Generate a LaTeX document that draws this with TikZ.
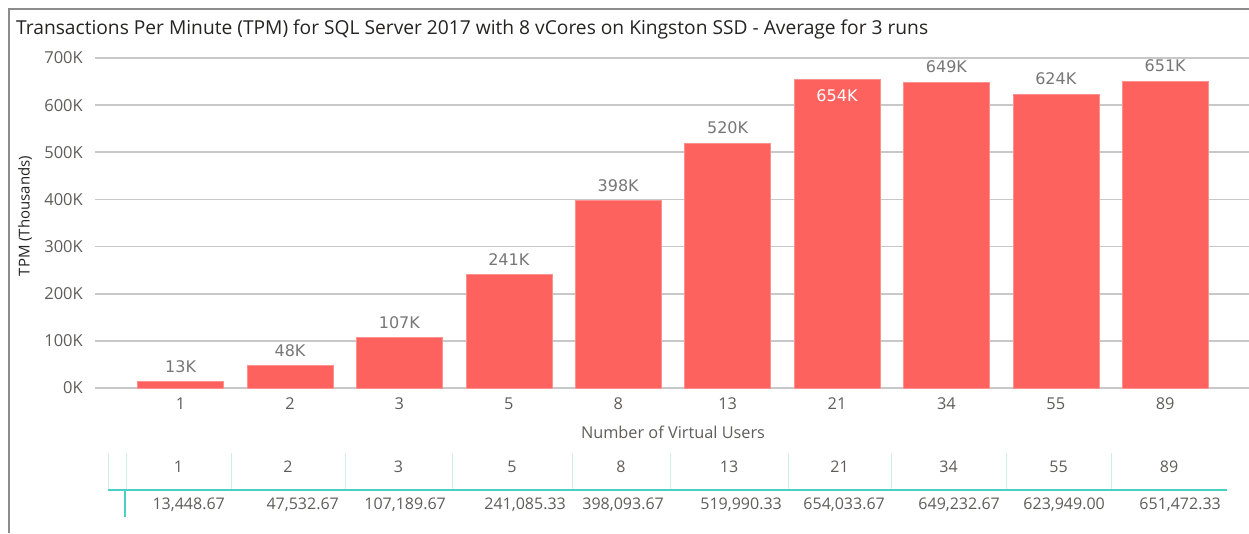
\documentclass[tikz,border=0pt]{standalone}
\usepackage{fontspec}
\setmainfont{Open Sans}
\newfontfamily\labelfont{DejaVu Sans}
\definecolor{barred}{HTML}{FD625E}
\definecolor{gridgrey}{HTML}{C8C8C8}
\definecolor{framegrey}{HTML}{8C8C8C}
\definecolor{axistext}{HTML}{605E5C}
\definecolor{titletext}{HTML}{252423}
\definecolor{valtext}{HTML}{777777}
\definecolor{teal}{HTML}{4CCFC3}
\definecolor{lightteal}{HTML}{CDEFEC}
\tikzset{
  gridline/.style={gridgrey, line width=1.6pt},
  ticklabel/.style={anchor=east, inner sep=0pt, text=axistext, font=\fontsize{16.5}{18}\selectfont},
  catlabel/.style={inner sep=0pt, text=axistext, font=\fontsize{16.3}{18}\selectfont},
  databar/.style={fill=barred, draw=barred!70!white, line width=0.6pt},
  datalabel/.style={inner sep=0pt, text=valtext, font=\labelfont\fontsize{16}{18}\selectfont},
  cellhead/.style={inner sep=0pt, text=axistext, font=\fontsize{16}{18}\selectfont},
  cellval/.style={anchor=east, inner sep=0pt, text=axistext, font=\fontsize{16}{18}\selectfont},
}
\begin{document}
\begin{tikzpicture}[x=1pt,y=-1pt]
\useasboundingbox (0,0) rectangle (1249,533);
\fill[white] (0,0) rectangle (1249,533);

% visual frame
\draw[framegrey, line width=2pt] (9,533) -- (9,9) -- (1249,9);

% title
\node[anchor=west, inner sep=0pt, text=titletext, font=\fontsize{19.2}{22}\selectfont] (title) at (16,29)
  {Transactions Per Minute (TPM) for SQL Server 2017 with 8 vCores on Kingston SSD - Average for 3 runs};

% value axis with gridlines
\foreach \k/\t in {0/0K,1/100K,2/200K,3/300K,4/400K,5/500K,6/600K,7/700K}{
  \draw[gridline] (95,388-47.143*\k) -- (1249,388-47.143*\k);
  \node[ticklabel] (tick\k) at (83,388-47.143*\k) {\t};
}
\node[rotate=90, inner sep=0pt, text=titletext, font=\fontsize{15}{17}\selectfont] (ytitle) at (25,216) {TPM (Thousands)};

% bars, data labels and category labels
\foreach \i/\v/\lab in {1/13.449/13K, 2/47.533/48K, 3/107.190/107K, 4/241.085/241K, 5/398.094/398K,
                        6/519.990/520K, 8/649.233/649K, 9/623.949/624K, 10/651.472/651K}{
  \pgfmathsetmacro{\cx}{180.6+109.4*(\i-1)}
  \pgfmathsetmacro{\ty}{388-\v*0.47143}
  \fill[databar] (\cx-43,\ty) rectangle (\cx+43,388);
  \node[datalabel] (lab\i) at (\cx,\ty-15) {\lab};
}
\pgfmathsetmacro{\cx}{180.6+109.4*6}
\pgfmathsetmacro{\ty}{388-654.034*0.47143}
\fill[databar] (\cx-43,\ty) rectangle (\cx+43,388);
\node[datalabel, text=white] (lab7) at (\cx,\ty+16) {654K};

\foreach \i/\c in {1/1, 2/2, 3/3, 4/5, 5/8, 6/13, 7/21, 8/34, 9/55, 10/89}{
  \node[catlabel] (cat\i) at (180.6+109.4*\i-109.4,404) {\c};
}
\node[catlabel] (xtitle) at (673,432) {Number of Virtual Users};

% data table beneath the chart
\foreach \x in {108,126,231,345,452,572,670,788,891,1006,1111}{
  \draw[lightteal, line width=1pt] (\x,453) -- (\x,490);
}
\coordinate (rowstart) at (108,490);
\coordinate (rowend) at (1227,490);
\draw[teal, line width=1.6pt] (rowstart) -- (rowend);
\coordinate (colA) at (125,490);
\coordinate (colB) at (125,517);
\draw[teal, line width=1.2pt] (colA) -- (colB);

\foreach \i/\l/\r/\c/\val in {1/126/231/1/{13,448.67}, 2/231/345/2/{47,532.67}, 3/345/452/3/{107,189.67},
    4/452/572/5/{241,085.33}, 5/572/670/8/{398,093.67}, 6/670/788/13/{519,990.33},
    7/788/891/21/{654,033.67}, 8/891/1006/34/{649,232.67}, 9/1006/1111/55/{623,949.00},
    10/1111/1227/89/{651,472.33}}{
  \node[cellhead] (head\i) at ({(\l+\r)/2},467) {\c};
  \node[cellval] (val\i) at (\r-6,505) {\val};
}
\end{tikzpicture}
\end{document}
